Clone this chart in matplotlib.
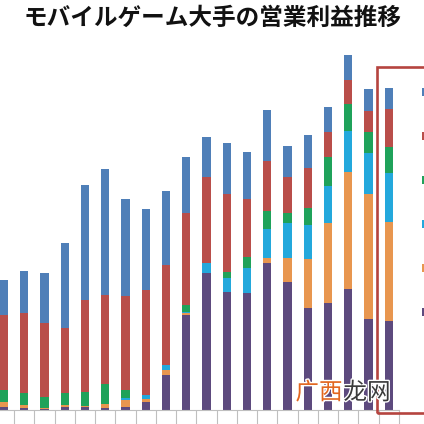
import matplotlib
matplotlib.use("Agg")
import matplotlib.pyplot as plt
import matplotlib.patches as mpatches
import matplotlib.patheffects as pe
import numpy as np

plt.rcParams['font.family'] = ['Noto Sans CJK JP', 'DejaVu Sans']

title = "モバイルゲーム大手の営業利益推移"
categories = ["1Q", "2Q", "3Q", "4Q"] * 5
series_names = ["ガンホー", "ミクシィ", "コロプラ", "サイバーエージェント", "グリー", "DeNA"]  # bottom -> top
colors = ["#5d4a7e", "#e8964f", "#23a8dc", "#1fa25a", "#b94e4a", "#4f7fb8"]

purple = [3.3, 2.3, 1.0, 3.3, 3.0, 2.3, 3.3, 8.3, 35.0, 95.0, 136.7, 118.3, 116.7, 147.3, 128.3, 101.7, 107.3, 120.7, 91.0, 89.0]
orange = [5.0, 2.7, 1.3, 1.7, 1.0, 3.7, 6.7, 2.4, 5.0, 1.7, 0.0, 0.0, 0.0, 4.4, 23.4, 49.0, 80.0, 117.6, 125.0, 99.3]
cyan = [0.0, 0.0, 0.0, 0.0, 0.0, 0.0, 2.0, 4.3, 5.0, 1.6, 10.0, 13.4, 25.0, 29.0, 35.0, 34.3, 36.7, 40.7, 40.7, 48.4]
green = [11.7, 11.7, 11.0, 11.7, 14.3, 19.7, 8.0, 0.0, 0.0, 6.7, 0.0, 6.6, 11.6, 18.6, 10.6, 16.7, 29.3, 27.0, 21.6, 26.0]
red = [75.0, 80.6, 74.0, 65.0, 91.7, 89.3, 94.0, 105.0, 100.0, 92.3, 86.6, 77.7, 57.4, 50.0, 36.0, 40.6, 25.0, 24.0, 20.7, 38.0]
blue = [35.0, 41.7, 50.0, 85.6, 115.0, 126.0, 97.0, 81.0, 74.0, 56.0, 39.7, 51.3, 47.6, 50.7, 30.7, 32.7, 25.0, 25.0, 22.0, 21.6]

series = [purple, orange, cyan, green, red, blue]

W = H = 424
fig = plt.figure(figsize=(4.24, 4.24), dpi=100)
fig.patch.set_facecolor("white")

ax = fig.add_axes([-6.1 / W, (H - 410) / H, 405 / W, (410 - 45) / H])
x = np.arange(len(categories))
bottom = np.zeros(len(categories))
handles = []
for vals, col, name in zip(series, colors, series_names):
    b = ax.bar(x, vals, bottom=bottom, width=0.41, color=col, label=name, linewidth=0)
    handles.append(b)
    bottom += np.array(vals)

ax.set_xlim(-0.5, len(categories) - 0.5)
ax.set_ylim(0, 365)
for s in ["top", "right", "left"]:
    ax.spines[s].set_visible(False)
ax.spines["bottom"].set_color("#bfbfbf")
ax.spines["bottom"].set_linewidth(0.8)
ax.set_yticks([])
ax.set_xticks(x)
ax.set_xticklabels(categories, fontsize=8)
ax.set_xticks(np.arange(len(categories) + 1) - 0.5, minor=True)
ax.tick_params(axis="x", which="major", length=0, pad=9.5)
ax.tick_params(axis="x", which="minor", length=12, color="#bfbfbf", width=0.8, direction="out")

fig.text(212.5 / W, 1 - 18 / H, title, ha="center", va="center", fontsize=17,
         fontweight="bold", color="#111111")

rect = mpatches.Rectangle((377 / W, (H - 413) / H), 0.2, (413 - 67) / H,
                          transform=fig.transFigure, fill=False, edgecolor="#b5443f",
                          linewidth=1.9, clip_on=False)
fig.add_artist(rect)

fig.legend(handles[::-1], series_names[::-1], loc="upper left",
           bbox_to_anchor=(422 / W, 1 - 86 / H), frameon=False, fontsize=9,
           handlelength=0.6, handleheight=0.6, labelspacing=2.48,
           borderpad=0, borderaxespad=0)

fig.text(319 / W, 1 - 393 / H, "广西", ha="center", va="center", fontsize=17,
         color="#e2661f", family=["Noto Sans CJK SC", "DejaVu Sans"],
         path_effects=[pe.withStroke(linewidth=2, foreground="white")])
fig.text(367 / W, 1 - 393 / H, "龙网", ha="center", va="center", fontsize=17,
         color="#3a3a3a", family=["Noto Sans CJK SC", "DejaVu Sans"],
         path_effects=[pe.withStroke(linewidth=2, foreground="white")])

fig.savefig("out.png", dpi=100)
